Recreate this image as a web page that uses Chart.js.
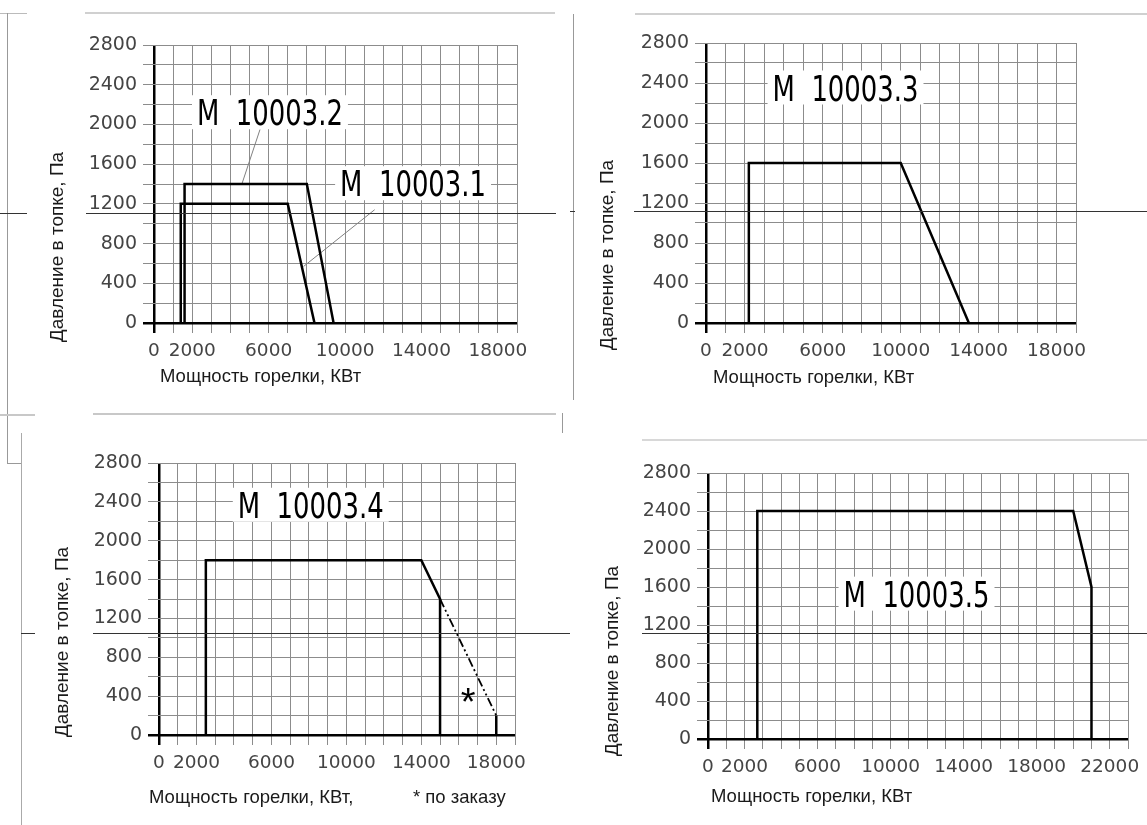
<!DOCTYPE html>
<html><head><meta charset="utf-8">
<script src="https://cdn.jsdelivr.net/npm/chart.js@4/dist/chart.umd.min.js"></script>
<style>
html,body{margin:0;padding:0;background:#fff;}
#page{position:relative;width:1147px;height:825px;overflow:hidden;background:#fff;}
canvas.ch{position:absolute;}
.ln{position:absolute;pointer-events:none;}
</style></head><body>
<div id="page">
<canvas id="c1" class="ch" style="left:0;top:0;width:573px;height:415px" width="573" height="415"></canvas>
<canvas id="c2" class="ch" style="left:573px;top:0;width:574px;height:415px" width="574" height="415"></canvas>
<canvas id="c3" class="ch" style="left:0;top:415px;width:573px;height:410px" width="573" height="410"></canvas>
<canvas id="c4" class="ch" style="left:573px;top:415px;width:574px;height:410px" width="574" height="410"></canvas>
<div id="deco"></div>
</div>
<script>
// ---------- data ----------
const pressureLabelTicks = [0, 400, 800, 1200, 1600, 2000, 2400, 2800];
const powerLabelTicks = [0, 2000, 6000, 10000, 14000, 18000];
const powerLabelTicksWide = [0, 2000, 6000, 10000, 14000, 18000, 22000];

const m1Power = [1400, 1400, 7000, 8400];
const m1Pressure = [0, 1200, 1200, 0];
const m2Power = [1600, 1600, 8000, 9400];
const m2Pressure = [0, 1400, 1400, 0];
const m3Power = [2200, 2200, 10000, 13500];
const m3Pressure = [0, 1600, 1600, 0];
const m4Power = [2500, 2500, 14000, 15000, 15000];
const m4Pressure = [0, 1800, 1800, 1400, 0];
const m4OrderPower = [15000, 18000, 18000];
const m4OrderPressure = [1400, 200, 0];
const m5Power = [2700, 2700, 20000, 21000, 21000];
const m5Pressure = [0, 2400, 2400, 1600, 0];

const modelNames = ['M  10003.1', 'M  10003.2', 'M  10003.3', 'M  10003.4', 'M  10003.5'];
const xTitle = 'Мощность горелки, КВт';
const xTitleComma = 'Мощность горелки, КВт,';
const yTitle = 'Давление в топке, Па';
const orderNote = '* по заказу';

function pts(xs, ys) { return xs.map((x, i) => ({x: x, y: ys[i]})); }

const LABEL_FONT = '36px "DejaVu Sans Condensed", "Liberation Sans Narrow", "Liberation Sans", sans-serif';
const LABEL_SCALE_X = 0.8;
const TITLE_FONT_X = '18.5px "Liberation Sans", Arial, sans-serif';
const TITLE_FONT_Y = '19px "Liberation Sans", Arial, sans-serif';

const annotPlugin = {
  id: 'annot',
  beforeDatasetsDraw(chart, args, o) {
    const ctx = chart.ctx, xs = chart.scales.x, ys = chart.scales.y;
    (o.leaders || []).forEach(l => {
      ctx.save();
      ctx.strokeStyle = '#808080'; ctx.lineWidth = 1;
      ctx.beginPath();
      ctx.moveTo(xs.getPixelForValue(l[0]), ys.getPixelForValue(l[1]));
      ctx.lineTo(xs.getPixelForValue(l[2]), ys.getPixelForValue(l[3]));
      ctx.stroke(); ctx.restore();
    });
    (o.labels || []).forEach(b => {
      ctx.save();
      ctx.font = LABEL_FONT;
      const w = ctx.measureText(b.text).width * LABEL_SCALE_X;
      const px = xs.getPixelForValue(b.x), py = ys.getPixelForValue(b.y);
      ctx.fillStyle = '#fff';
      ctx.fillRect(px - w / 2 - 5, py - 17, w + 10, 34);
      ctx.fillStyle = '#000';
      ctx.translate(px, py + 13);
      ctx.scale(LABEL_SCALE_X, 1);
      ctx.textAlign = 'center'; ctx.textBaseline = 'alphabetic';
      ctx.fillText(b.text, 0, 0);
      ctx.restore();
    });
    (o.marks || []).forEach(b => {
      ctx.save();
      ctx.font = '38px "Liberation Sans", Arial, sans-serif';
      ctx.fillStyle = '#000';
      ctx.textAlign = 'center'; ctx.textBaseline = 'alphabetic';
      ctx.fillText(b.text, xs.getPixelForValue(b.x), ys.getPixelForValue(b.y) + 20);
      ctx.restore();
    });
  },
  afterDraw(chart, args, o) {
    const ctx = chart.ctx;
    ctx.save();
    ctx.fillStyle = '#1a1a1a';
    ctx.font = TITLE_FONT_Y;
    ctx.translate(o.yTitle.x, o.yTitle.y);
    ctx.rotate(-Math.PI / 2);
    ctx.textAlign = 'center'; ctx.textBaseline = 'middle';
    ctx.fillText(yTitle, 0, 0);
    ctx.restore();
    ctx.save();
    ctx.fillStyle = '#1a1a1a';
    ctx.font = TITLE_FONT_X;
    ctx.textAlign = 'left'; ctx.textBaseline = 'middle';
    ctx.fillText(o.xTitle.text, o.xTitle.x, o.xTitle.y);
    if (o.note) ctx.fillText(o.note.text, o.note.x, o.note.y);
    ctx.restore();
  }
};

function lineDs(data, extra) {
  return Object.assign({data: data, showLine: true, borderColor: '#000', borderWidth: 2.5,
    pointRadius: 0, fill: false, tension: 0, borderJoinStyle: 'miter'}, extra || {});
}

function makeChart(id, W, H, area, xMax, xLabels, datasets, annot) {
  const isZero = c => c.tick && c.tick.value === 0;
  const gridCfg = (tl) => ({
    color: c => isZero(c) ? '#000' : '#8c8c8c',
    lineWidth: c => isZero(c) ? 2.5 : 1,
    tickColor: c => isZero(c) ? '#000' : '#8c8c8c',
    tickWidth: c => isZero(c) ? 2.5 : 1,
    tickLength: tl
  });
  new Chart(document.getElementById(id), {
    type: 'scatter',
    data: {datasets: datasets},
    options: {
      responsive: false, animation: false, events: [],
      layout: {padding: {top: area.t, right: W - area.r, left: 0, bottom: 0}},
      plugins: {legend: {display: false}, tooltip: {enabled: false}, annot: annot},
      scales: {
        x: {
          type: 'linear', min: 0, max: xMax,
          afterFit: s => { s.height = H - area.b; },
          border: {display: false},
          grid: gridCfg(10),
          ticks: {stepSize: 1000, autoSkip: false, maxRotation: 0, minRotation: 0, padding: 7,
            color: '#444', font: {family: '"DejaVu Sans", sans-serif', size: 18.5},
            callback: v => xLabels.includes(v) ? String(v) : ''}
        },
        y: {
          type: 'linear', min: 0, max: 2800,
          afterFit: s => { s.width = area.l; },
          border: {display: false},
          grid: gridCfg(11),
          ticks: {stepSize: 200, autoSkip: false, padding: 6,
            color: '#444', font: {family: '"DejaVu Sans", sans-serif', size: 19},
            callback: v => pressureLabelTicks.includes(v) ? String(v) : ''}
        }
      }
    },
    plugins: [annotPlugin]
  });
}

makeChart('c1', 573, 415, {l: 154, t: 45, r: 517, b: 323}, 19000, powerLabelTicks,
  [lineDs(pts(m1Power, m1Pressure)), lineDs(pts(m2Power, m2Pressure))],
  {labels: [{text: modelNames[1], x: 6070, y: 2123}, {text: modelNames[0], x: 13560, y: 1408}],
   leaders: [[5550, 1950, 4600, 1400], [11550, 1141, 7830, 570]],
   yTitle: {x: 58, y: 247}, xTitle: {text: xTitle, x: 160, y: 377}});

makeChart('c2', 574, 415, {l: 133, t: 43, r: 503, b: 323}, 19000, powerLabelTicks,
  [lineDs(pts(m3Power, m3Pressure))],
  {labels: [{text: modelNames[2], x: 7165, y: 2355}],
   yTitle: {x: 35, y: 255}, xTitle: {text: xTitle, x: 140, y: 378}});

makeChart('c3', 573, 410, {l: 159, t: 48, r: 515, b: 320}, 19000, powerLabelTicks,
  [lineDs(pts(m4Power, m4Pressure)),
   lineDs(pts(m4OrderPower, m4OrderPressure), {segment: {
     borderDash: c => c.p0DataIndex === 0 ? [9, 3, 2, 3, 2, 3] : undefined,
     borderWidth: c => c.p0DataIndex === 0 ? 1.8 : undefined}})],
  {labels: [{text: modelNames[3], x: 8100, y: 2370}],
   marks: [{text: '*', x: 16500, y: 410}],
   yTitle: {x: 63, y: 227}, xTitle: {text: xTitleComma, x: 149, y: 383},
   note: {text: orderNote, x: 413, y: 383}});

makeChart('c4', 574, 410, {l: 135, t: 58, r: 555, b: 324}, 23000, powerLabelTicksWide,
  [lineDs(pts(m5Power, m5Pressure))],
  {labels: [{text: modelNames[4], x: 11420, y: 1530}],
   yTitle: {x: 40, y: 246}, xTitle: {text: xTitle, x: 138, y: 382}});

// ---------- page decoration (scan frame lines) ----------
const decoLines = [
  // [left, top, width, height, color]
  [0, 13, 27, 1, '#bbb'], [85, 12, 470, 2, '#d0d0d0'], [7, 13, 1, 450, '#999'],
  [0, 213, 27, 1, '#333'], [86, 213, 470, 1, '#333'],
  [0, 414, 35, 2, '#c8c8c8'], [93, 413, 463, 2, '#c8c8c8'], [562, 413, 1, 20, '#999'],
  [635, 13, 512, 2, '#d0d0d0'], [573, 14, 1, 386, '#999'], [570, 211, 5, 1, '#333'], [634, 211, 513, 1, '#333'],
  [7, 463, 14, 1, '#999'], [21, 433, 1, 392, '#aaa'], [21, 633, 14, 1, '#333'], [93, 633, 477, 1, '#333'],
  [642, 439, 505, 2, '#d8d8d8'], [642, 633, 505, 1, '#333']
];
const deco = document.getElementById('deco');
decoLines.forEach(d => {
  const e = document.createElement('div');
  e.className = 'ln';
  e.style.left = d[0] + 'px'; e.style.top = d[1] + 'px';
  e.style.width = d[2] + 'px'; e.style.height = d[3] + 'px';
  e.style.background = d[4];
  deco.appendChild(e);
});
</script>
</body></html>
